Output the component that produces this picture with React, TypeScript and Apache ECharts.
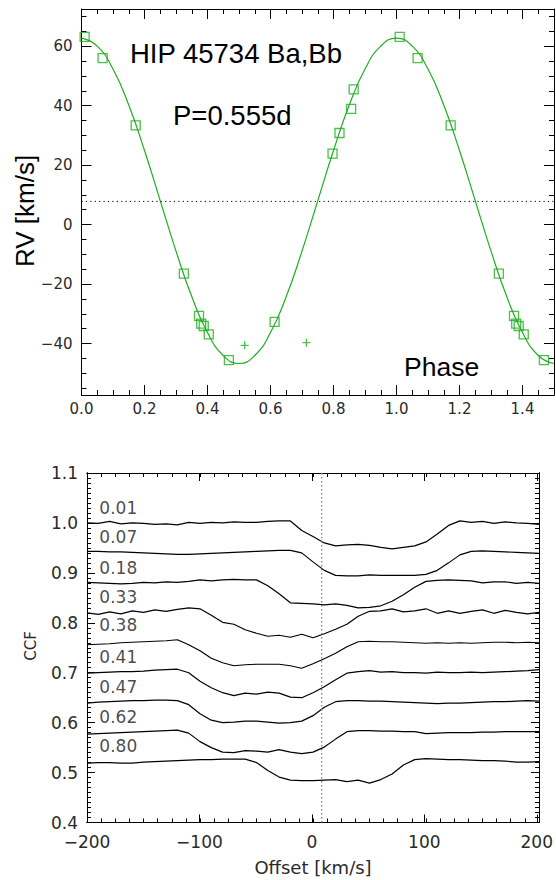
import React, { useEffect, useRef } from "react";
import * as echarts from "echarts";

// ---------- Top panel: radial velocity curve ----------
const obsPhase = [0.010, 0.067, 0.172, 0.325, 0.373, 0.380, 0.388, 0.404, 0.468, 0.613, 0.797, 0.819, 0.856, 0.864];
const obsRV = [63.1, 56.0, 33.4, -16.5, -30.7, -33.3, -34.1, -36.9, -45.6, -32.7, 23.9, 30.8, 38.9, 45.5];
const extraPhase = [0.518, 0.714];
const extraRV = [-40.6, -39.7];
const fitPhase = [0.0, 0.05, 0.1, 0.15, 0.2, 0.25, 0.3, 0.35, 0.4, 0.45, 0.5, 0.55, 0.6, 0.65, 0.7, 0.75, 0.8, 0.85, 0.9, 0.95, 1.0, 1.05, 1.1, 1.15, 1.2, 1.25, 1.3, 1.35, 1.4, 1.45, 1.5];
const fitRV = [62.7, 60.0, 52.3, 40.2, 24.9, 8.0, -8.9, -24.2, -36.3, -44.0, -46.7, -44.0, -36.3, -24.2, -8.9, 8.0, 24.9, 40.2, 52.3, 60.0, 62.7, 60.0, 52.3, 40.2, 24.9, 8.0, -8.9, -24.2, -36.3, -44.0, -46.7];
const systemicRV = 7.8;
const phaseRange = [0, 1.5];
const rvRange = [-57.3, 72.5];
const phaseStep = 0.2;
const phaseMinorStep = 0.05;
const rvStep = 20;
const rvMinorStep = 5;

// ---------- Bottom panel: CCF profiles ----------
const offsets = [-200, -190, -180, -170, -160, -150, -140, -130, -120, -110, -100, -90, -80, -70, -60, -50, -40, -30, -20, -10, 0, 10, 20, 30, 40, 50, 60, 70, 80, 90, 100, 110, 120, 130, 140, 150, 160, 170, 180, 190, 200];
const ccf01 = [1.000, 0.999, 1.003, 0.998, 1.000, 0.999, 0.997, 0.998, 0.996, 1.001, 0.999, 1.001, 1.000, 1.002, 1.001, 1.001, 1.003, 1.004, 1.004, 0.985, 0.973, 0.960, 0.954, 0.956, 0.957, 0.955, 0.951, 0.948, 0.951, 0.954, 0.962, 0.978, 0.995, 1.004, 1.001, 1.003, 0.999, 1.002, 1.000, 0.999, 0.997];
const ccf07 = [0.943, 0.943, 0.942, 0.942, 0.941, 0.940, 0.939, 0.938, 0.937, 0.937, 0.938, 0.939, 0.940, 0.941, 0.942, 0.943, 0.944, 0.945, 0.945, 0.940, 0.922, 0.905, 0.895, 0.894, 0.894, 0.896, 0.895, 0.895, 0.895, 0.895, 0.897, 0.905, 0.920, 0.936, 0.943, 0.944, 0.943, 0.942, 0.941, 0.940, 0.939];
const ccf18 = [0.881, 0.880, 0.879, 0.878, 0.879, 0.881, 0.880, 0.882, 0.881, 0.883, 0.886, 0.884, 0.886, 0.887, 0.886, 0.886, 0.874, 0.858, 0.840, 0.839, 0.838, 0.836, 0.838, 0.835, 0.830, 0.831, 0.834, 0.843, 0.856, 0.871, 0.883, 0.885, 0.886, 0.885, 0.884, 0.880, 0.882, 0.882, 0.879, 0.881, 0.879];
const ccf33 = [0.820, 0.817, 0.822, 0.818, 0.824, 0.821, 0.826, 0.823, 0.827, 0.830, 0.828, 0.815, 0.801, 0.797, 0.786, 0.779, 0.773, 0.775, 0.771, 0.777, 0.770, 0.778, 0.787, 0.797, 0.813, 0.823, 0.824, 0.828, 0.822, 0.824, 0.828, 0.819, 0.824, 0.819, 0.823, 0.826, 0.819, 0.825, 0.821, 0.818, 0.821];
const ccf38 = [0.756, 0.757, 0.758, 0.760, 0.761, 0.762, 0.763, 0.764, 0.766, 0.756, 0.744, 0.729, 0.720, 0.714, 0.716, 0.717, 0.717, 0.717, 0.714, 0.709, 0.718, 0.728, 0.739, 0.752, 0.762, 0.763, 0.762, 0.762, 0.761, 0.760, 0.759, 0.760, 0.759, 0.760, 0.759, 0.760, 0.761, 0.761, 0.760, 0.761, 0.760];
const ccf41 = [0.699, 0.700, 0.701, 0.702, 0.702, 0.703, 0.705, 0.706, 0.707, 0.700, 0.683, 0.670, 0.660, 0.654, 0.659, 0.657, 0.661, 0.659, 0.651, 0.650, 0.660, 0.672, 0.686, 0.699, 0.702, 0.704, 0.701, 0.702, 0.700, 0.700, 0.699, 0.701, 0.700, 0.700, 0.701, 0.700, 0.701, 0.702, 0.703, 0.704, 0.706];
const ccf47 = [0.639, 0.641, 0.642, 0.643, 0.644, 0.644, 0.645, 0.645, 0.644, 0.636, 0.618, 0.605, 0.600, 0.601, 0.603, 0.603, 0.601, 0.599, 0.600, 0.603, 0.614, 0.631, 0.642, 0.644, 0.644, 0.643, 0.643, 0.642, 0.641, 0.640, 0.639, 0.638, 0.639, 0.639, 0.640, 0.641, 0.642, 0.642, 0.643, 0.644, 0.643];
const ccf62 = [0.577, 0.578, 0.579, 0.580, 0.581, 0.582, 0.583, 0.584, 0.585, 0.579, 0.562, 0.550, 0.541, 0.540, 0.544, 0.543, 0.541, 0.546, 0.541, 0.538, 0.541, 0.551, 0.567, 0.582, 0.584, 0.584, 0.583, 0.583, 0.582, 0.582, 0.578, 0.579, 0.580, 0.580, 0.580, 0.581, 0.581, 0.582, 0.582, 0.582, 0.582];
const ccf80 = [0.519, 0.520, 0.520, 0.519, 0.519, 0.521, 0.522, 0.523, 0.524, 0.525, 0.526, 0.526, 0.527, 0.527, 0.527, 0.520, 0.504, 0.491, 0.485, 0.484, 0.484, 0.485, 0.486, 0.482, 0.485, 0.479, 0.486, 0.497, 0.515, 0.526, 0.528, 0.527, 0.526, 0.526, 0.525, 0.524, 0.524, 0.523, 0.521, 0.521, 0.522];
const ccfProfiles = [ccf01, ccf07, ccf18, ccf33, ccf38, ccf41, ccf47, ccf62, ccf80];
const ccfLabels = ["0.01", "0.07", "0.18", "0.33", "0.38", "0.41", "0.47", "0.62", "0.80"];
const ccfLabelLevel = [1.029, 0.972, 0.909, 0.852, 0.795, 0.732, 0.671, 0.611, 0.554];
const ccfLabelOffset = -189.5;
const systemicOffset = 7.7;
const offsetRange = [-200, 200];
const ccfRange = [0.4, 1.1];
const offsetStep = 100;
const offsetMinorStep = 12.5;
const ccfStep = 0.1;
const ccfMinorStep = 0.01;

const GREEN = "#1fae1f";
const TICK_FONT = "DejaVu Sans";

type Frame = { left: number; top: number; width: number; height: number; x: number[]; y: number[] };
type LabelCfg = { fmt: (v: number) => string; size: number; margin: number };

const minusFmt = (v: number) => String(Math.round(v)).replace("-", "\u2212");
const fix1 = (v: number) => v.toFixed(1);

function aligned(a: number, b: number, d: number): number[] {
  const lo = Math.ceil(a / d - 1e-9) * d;
  const hi = Math.floor(b / d + 1e-9) * d;
  return [Math.round(lo * 1e6) / 1e6, Math.round(hi * 1e6) / 1e6];
}

function tickAxis(gridIndex: number, position: string, lo: number, hi: number, d: number, len: number, label?: LabelCfg) {
  return {
    type: "value",
    gridIndex,
    position,
    min: lo,
    max: hi,
    interval: d,
    axisLine: { show: true, onZero: false, lineStyle: { color: "#000", width: 1 } },
    axisTick: { show: true, inside: true, length: len, lineStyle: { color: "#000", width: 1 } },
    axisLabel: label
      ? {
          show: true,
          formatter: label.fmt,
          fontSize: label.size,
          fontFamily: TICK_FONT,
          color: "#2a2a2a",
          margin: label.margin,
        }
      : { show: false },
    splitLine: { show: false },
  };
}

// companion axis of a tick grid: present but draws nothing
function quietAxis(gridIndex: number) {
  return {
    type: "value",
    gridIndex,
    min: 0,
    max: 1,
    axisLine: { show: false, onZero: false },
    axisTick: { show: false },
    axisLabel: { show: false },
    splitLine: { show: false },
  };
}

// data axis that draws one side of the frame
function frameAxis(gridIndex: number, position: string, range: number[]) {
  return {
    type: "value",
    gridIndex,
    position,
    min: range[0],
    max: range[1],
    axisLine: { show: true, onZero: false, lineStyle: { color: "#000", width: 1 } },
    axisTick: { show: false },
    axisLabel: { show: false },
    splitLine: { show: false },
  };
}

// tick/label grids aligned pixel-exactly with a data frame (ticks on both opposite sides)
function addTicks(
  grids: any[],
  xAxes: any[],
  yAxes: any[],
  anchors: any[],
  f: Frame,
  dir: "x" | "y",
  d: number,
  len: number,
  label?: LabelCfg
) {
  const gi = grids.length;
  if (dir === "x") {
    const [lo, hi] = aligned(f.x[0], f.x[1], d);
    const sx = f.width / (f.x[1] - f.x[0]);
    grids.push({ left: f.left + (lo - f.x[0]) * sx, top: f.top, width: (hi - lo) * sx, height: f.height });
    const xi = xAxes.length;
    xAxes.push(tickAxis(gi, "bottom", lo, hi, d, len, label));
    xAxes.push(tickAxis(gi, "top", lo, hi, d, len));
    const yi = yAxes.length;
    yAxes.push(quietAxis(gi));
    anchors.push({ type: "scatter", xAxisIndex: xi, yAxisIndex: yi, data: [[lo, 0.5]], symbolSize: 0, silent: true, itemStyle: { color: "rgba(0,0,0,0)" } });
  } else {
    const [lo, hi] = aligned(f.y[0], f.y[1], d);
    const sy = f.height / (f.y[1] - f.y[0]);
    grids.push({ left: f.left, top: f.top + (f.y[1] - hi) * sy, width: f.width, height: (hi - lo) * sy });
    const yi = yAxes.length;
    yAxes.push(tickAxis(gi, "left", lo, hi, d, len, label));
    yAxes.push(tickAxis(gi, "right", lo, hi, d, len));
    const xi = xAxes.length;
    xAxes.push(quietAxis(gi));
    anchors.push({ type: "scatter", xAxisIndex: xi, yAxisIndex: yi, data: [[0.5, lo]], symbolSize: 0, silent: true, itemStyle: { color: "rgba(0,0,0,0)" } });
  }
}

export default function App() {
  const ref = useRef<HTMLDivElement>(null);

  useEffect(() => {
    const el = ref.current;
    if (!el) return;
    const chart = echarts.init(el, undefined, { renderer: "svg" });

    const top: Frame = { left: 81.5, top: 9, width: 472.5, height: 386, x: phaseRange, y: rvRange };
    const bot: Frame = { left: 87, top: 473, width: 452, height: 349.5, x: offsetRange, y: ccfRange };

    const grids: any[] = [
      { left: top.left, top: top.top, width: top.width, height: top.height },
      { left: bot.left, top: bot.top, width: bot.width, height: bot.height },
    ];
    const xAxes: any[] = [frameAxis(0, "bottom", top.x), frameAxis(1, "bottom", bot.x)];
    const yAxes: any[] = [frameAxis(0, "left", top.y), frameAxis(1, "left", bot.y)];
    xAxes.push(frameAxis(0, "top", top.x), frameAxis(1, "top", bot.x));
    yAxes.push(frameAxis(0, "right", top.y), frameAxis(1, "right", bot.y));
    const anchors: any[] = [];

    addTicks(grids, xAxes, yAxes, anchors, top, "x", phaseStep, 10, { fmt: fix1, size: 15, margin: 6 });
    addTicks(grids, xAxes, yAxes, anchors, top, "x", phaseMinorStep, 5);
    addTicks(grids, xAxes, yAxes, anchors, top, "y", rvStep, 10, { fmt: minusFmt, size: 15, margin: 9 });
    addTicks(grids, xAxes, yAxes, anchors, top, "y", rvMinorStep, 5);
    addTicks(grids, xAxes, yAxes, anchors, bot, "x", offsetStep, 8, { fmt: minusFmt, size: 17, margin: 11 });
    addTicks(grids, xAxes, yAxes, anchors, bot, "x", offsetMinorStep, 4);
    addTicks(grids, xAxes, yAxes, anchors, bot, "y", ccfStep, 8, { fmt: fix1, size: 17, margin: 9 });
    addTicks(grids, xAxes, yAxes, anchors, bot, "y", ccfMinorStep, 4);

    // observations, repeated one cycle later where they fall inside the plotted phase range
    const obsPoints: number[][] = [];
    obsPhase.forEach((p, i) => {
      obsPoints.push([p, obsRV[i]]);
      if (p + 1 <= phaseRange[1]) obsPoints.push([p + 1, obsRV[i]]);
    });
    const extraPoints = extraPhase.map((p, i) => [p, extraRV[i]]);

    const ccfSeries = ccfProfiles.map((prof, k) => ({
      type: "line",
      name: ccfLabels[k],
      xAxisIndex: 1,
      yAxisIndex: 1,
      data: offsets.map((o, i) => [o, prof[i]]),
      showSymbol: false,
      symbol: "none",
      lineStyle: { color: "#000", width: 1.2 },
      silent: true,
    }));

    const option: any = {
      animation: false,
      backgroundColor: "#fff",
      grid: grids,
      xAxis: xAxes,
      yAxis: yAxes,
      series: [
        {
          type: "line",
          xAxisIndex: 0,
          yAxisIndex: 0,
          data: fitPhase.map((p, i) => [p, fitRV[i]]),
          smooth: true,
          showSymbol: false,
          symbol: "none",
          lineStyle: { color: GREEN, width: 1.2 },
        },
        {
          type: "line",
          xAxisIndex: 0,
          yAxisIndex: 0,
          data: [
            [phaseRange[0], systemicRV],
            [phaseRange[1], systemicRV],
          ],
          showSymbol: false,
          symbol: "none",
          lineStyle: { color: "#000", width: 1, type: [1.2, 3.2] },
        },
        {
          type: "scatter",
          xAxisIndex: 0,
          yAxisIndex: 0,
          data: obsPoints,
          symbol: "rect",
          symbolSize: 9,
          itemStyle: { color: "rgba(0,0,0,0)", borderColor: GREEN, borderWidth: 1.3 },
        },
        {
          type: "scatter",
          xAxisIndex: 0,
          yAxisIndex: 0,
          data: extraPoints,
          symbol: "path://M5,0 L5,10 M0,5 L10,5",
          symbolSize: 8,
          itemStyle: { color: "rgba(0,0,0,0)", borderColor: GREEN, borderWidth: 1.3 },
        },
        ...ccfSeries,
        {
          type: "line",
          xAxisIndex: 1,
          yAxisIndex: 1,
          data: [
            [systemicOffset, ccfRange[0]],
            [systemicOffset, ccfRange[1]],
          ],
          showSymbol: false,
          symbol: "none",
          lineStyle: { color: "#777", width: 1.2, type: [1.5, 2.5] },
        },
        {
          type: "scatter",
          xAxisIndex: 1,
          yAxisIndex: 1,
          data: ccfLabelLevel.map((v, i) => [ccfLabelOffset, v, ccfLabels[i]]),
          symbol: "circle",
          symbolSize: 1,
          itemStyle: { color: "rgba(0,0,0,0)" },
          label: {
            show: true,
            position: "right",
            distance: 0,
            formatter: (p: any) => p.value[2],
            fontFamily: TICK_FONT,
            fontSize: 17,
            color: "#1a1a1a",
          },
        },
        ...anchors,
      ],
      graphic: [
        {
          type: "text",
          x: 130,
          y: 53.5,
          style: { text: "HIP 45734 Ba,Bb", fontFamily: "Liberation Sans", fontSize: 27.5, fill: "#000", align: "left", verticalAlign: "middle" },
        },
        {
          type: "text",
          x: 173,
          y: 115.5,
          style: { text: "P=0.555d", fontFamily: "Liberation Sans", fontSize: 27.5, fill: "#000", align: "left", verticalAlign: "middle" },
        },
        {
          type: "text",
          x: 404,
          y: 367,
          style: { text: "Phase", fontFamily: "Liberation Sans", fontSize: 26.5, fill: "#000", align: "left", verticalAlign: "middle" },
        },
        {
          type: "text",
          x: 24.5,
          y: 211,
          rotation: Math.PI / 2,
          style: { text: "RV [km/s]", fontFamily: "Liberation Sans", fontSize: 26, fill: "#000", align: "center", verticalAlign: "middle" },
        },
        {
          type: "text",
          x: 31,
          y: 646,
          rotation: Math.PI / 2,
          style: { text: "CCF", fontFamily: TICK_FONT, fontSize: 15, fill: "#2a2a2a", align: "center", verticalAlign: "middle" },
        },
        {
          type: "text",
          x: 313,
          y: 867,
          style: { text: "Offset [km/s]", fontFamily: TICK_FONT, fontSize: 18, fill: "#2a2a2a", align: "center", verticalAlign: "middle" },
        },
      ],
    };

    chart.setOption(option);
    return () => chart.dispose();
  }, []);

  return (
    <div
      ref={ref}
      style={{ position: "absolute", left: 0, top: 0, width: 556, height: 880, background: "#fff" }}
    />
  );
}
